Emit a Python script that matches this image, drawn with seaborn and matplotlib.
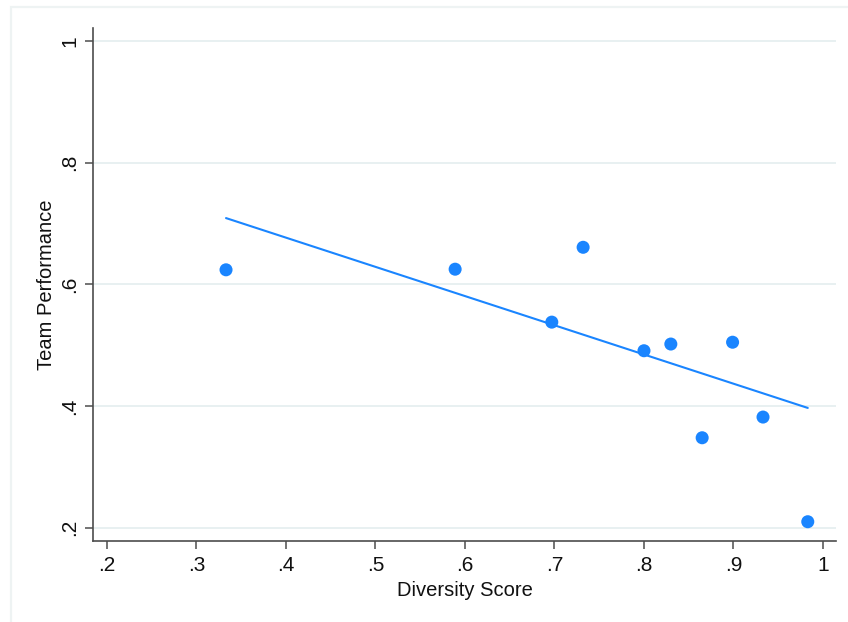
import matplotlib
matplotlib.use("Agg")
import matplotlib.pyplot as plt
from matplotlib.patches import Rectangle
import seaborn as sns
import pandas as pd

# Team-level observations
diversity = [0.333, 0.589, 0.697, 0.732, 0.800, 0.830, 0.865, 0.899, 0.933, 0.983]
performance = [0.624, 0.625, 0.538, 0.661, 0.491, 0.502, 0.348, 0.505, 0.382, 0.210]

# Linear fit line (end points over the observed range)
fit_x = [0.333, 0.983]
fit_y = [0.709, 0.397]

x_ticks = [0.2, 0.3, 0.4, 0.5, 0.6, 0.7, 0.8, 0.9, 1.0]
x_tick_labels = [".2", ".3", ".4", ".5", ".6", ".7", ".8", ".9", "1"]
y_ticks = [0.2, 0.4, 0.6, 0.8, 1.0]
y_tick_labels = [".2", ".4", ".6", ".8", "1"]

sns.set_theme(style="white")
plt.rcParams["font.family"] = ["Liberation Sans", "DejaVu Sans"]

blue = "#1A85FF"
axis_col = "#4d4d4d"
grid_col = "#E8F0F1"

points = pd.DataFrame({"Diversity Score": diversity, "Team Performance": performance})
fit = pd.DataFrame({"x": fit_x, "y": fit_y})

fig = plt.figure(figsize=(8.48, 6.22), dpi=100)
ax = fig.add_axes([0.1097, 0.1302, 0.8761, 0.8248])

# outer graph-region frame
fig.patches.append(Rectangle((10.5 / 848, -0.05), 1.1, 1 - 7 / 622 + 0.05,
                             transform=fig.transFigure, fill=False,
                             edgecolor="#EEF3F3", linewidth=1.6, zorder=0))

for yt in y_ticks:
    ax.axhline(yt, color=grid_col, linewidth=1.4, zorder=0)

sns.lineplot(data=fit, x="x", y="y", ax=ax, color=blue, linewidth=1.5, zorder=2)
sns.scatterplot(data=points, x="Diversity Score", y="Team Performance", ax=ax,
                color=blue, s=88, edgecolor="none", linewidth=0, zorder=3)

ax.set_xlim(0.1844, 1.0145)
ax.set_ylim(0.1783, 1.0214)
ax.set_xticks(x_ticks)
ax.set_xticklabels(x_tick_labels)
ax.set_yticks(y_ticks)
ax.set_yticklabels(y_tick_labels, rotation=90, va="center")

for side in ["top", "right"]:
    ax.spines[side].set_visible(False)
for side in ["left", "bottom"]:
    ax.spines[side].set_color(axis_col)
    ax.spines[side].set_linewidth(1.2)

ax.tick_params(axis="both", which="major", direction="out", length=6,
               width=1.1, color=axis_col, labelsize=15, labelcolor="#111111")
ax.tick_params(axis="x", bottom=True, pad=5)
ax.tick_params(axis="y", left=True, pad=4)

ax.set_xlabel("Diversity Score", fontsize=14.5, color="#111111", labelpad=4)
ax.set_ylabel("Team Performance", fontsize=14.5, color="#111111", labelpad=3)

fig.savefig("out.png", dpi=100)
